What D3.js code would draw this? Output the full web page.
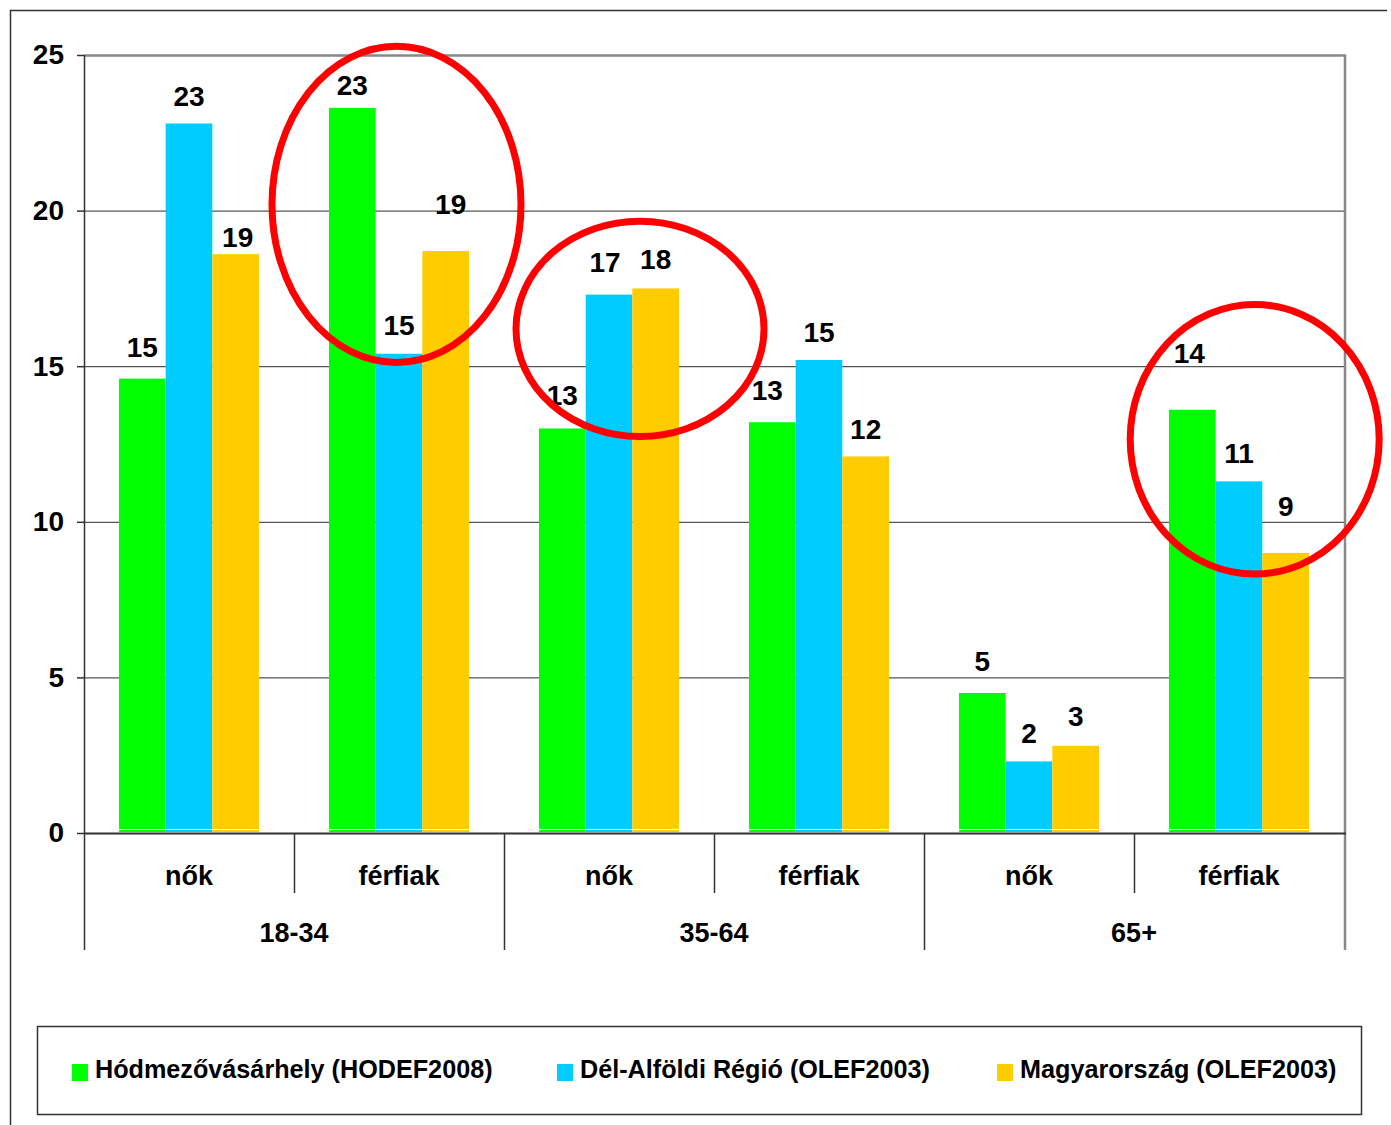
<!DOCTYPE html>
<html>
<head>
<meta charset="utf-8">
<script src="https://cdn.jsdelivr.net/npm/d3@7"></script>
<style>
  body { margin: 0; background: #fff; }
  svg { display: block; font-family: "Liberation Sans", Arial, sans-serif; font-weight: bold; }
</style>
</head>
<body>
<div id="chart"></div>
<script>
// categories
var ageGroups = ["18-34", "35-64", "65+"]
var sexes = ["nők", "férfiak"]
var seriesNames = ["Hódmezővásárhely (HODEF2008)", "Dél-Alföldi Régió (OLEF2003)", "Magyarország (OLEF2003)"]

// values per subcategory (nők 18-34, férfiak 18-34, nők 35-64, ...)
var hodef = [14.6, 23.3, 13.0, 13.2, 4.5, 13.6]
var delAlfold = [22.8, 15.4, 17.3, 15.2, 2.3, 11.3]
var magyar = [18.6, 18.7, 17.5, 12.1, 2.8, 9.0]

var yTicks = [0, 5, 10, 15, 20, 25]

// label nudges [dx, dy], hand-placed labels in the original
var labelNudge = [
  [[0, -2], [0, 7], [0, -3], [-5, -2], [0, -2], [-3, -27]],
  [[0, 3], [0, 1], [-4, -3], [0, 2], [0, 2], [0, 2]],
  [[2, 13], [5, -17], [0, 1], [0, 3], [0, 0], [0, -17]]
]

// red highlight ellipses: subcategory index, dx from band centre, centre value, rx px, ry value
var highlights = [
  {cat: 1, dx: -2.5, v: 20.2, rx: 124.5, ry: 5.08},
  {cat: 2, dx: 31, v: 16.2, rx: 124, ry: 3.46},
  {cat: 5, dx: 15.7, v: 12.65, rx: 124.5, ry: 4.33}
]

var colors = ["#00ff00", "#00ccff", "#ffcc00"]

var W = 1391, H = 1125
var plotL = 84, plotR = 1344, plotT = 55, plotB = 833

var svg = d3.select("#chart").append("svg")
  .attr("width", W)
  .attr("height", H)

// outer frame (top + left edge visible)
svg.append("path")
  .attr("d", "M10.5,1125V10.5H1387")
  .attr("fill", "none")
  .attr("stroke", "#333")
  .attr("stroke-width", 1.5)

var subcats = []
ageGroups.forEach(function(g) {
  sexes.forEach(function(s) { subcats.push(g + "|" + s) })
})

var x0 = d3.scaleBand().domain(subcats).range([plotL, plotR]).padding(0)
var x1 = d3.scaleBand().domain(d3.range(3)).range([0, x0.bandwidth()]).paddingInner(0).paddingOuter(0.75)
var y = d3.scaleLinear().domain([0, 25]).range([plotB, plotT])

var series = [hodef, delAlfold, magyar]

// gridlines
svg.append("g").selectAll("line")
  .data(yTicks.filter(function(t) { return t > 0 && t < 25 }))
  .join("line")
  .attr("x1", plotL).attr("x2", plotR)
  .attr("y1", function(d) { return y(d) + 0.5 })
  .attr("y2", function(d) { return y(d) + 0.5 })
  .attr("stroke", "#555")
  .attr("stroke-width", 1.2)

// top and right border of plot area
svg.append("path")
  .attr("d", "M" + plotL + "," + (plotT + 0.5) + "H" + (plotR + 1) + "V950")
  .attr("fill", "none")
  .attr("stroke", "#888")
  .attr("stroke-width", 2.5)

// bars
var bars = svg.append("g")
series.forEach(function(vals, si) {
  bars.selectAll(".s" + si)
    .data(vals)
    .join("rect")
    .attr("class", "s" + si)
    .attr("x", function(d, i) { return x0(subcats[i]) + x1(si) })
    .attr("y", function(d) { return y(d) })
    .attr("width", x1.bandwidth())
    .attr("height", function(d) { return y(0) - y(d) - 1 })
    .attr("fill", colors[si])
})

// thin white line near the bar bottoms
svg.append("g").selectAll("line")
  .data(subcats)
  .join("line")
  .attr("x1", function(d) { return x0(d) + x1(0) })
  .attr("x2", function(d) { return x0(d) + x1(2) + x1.bandwidth() })
  .attr("y1", y(0) - 3.5).attr("y2", y(0) - 3.5)
  .attr("stroke", "#fff")
  .attr("stroke-width", 1)

// value labels
var labels = svg.append("g")
  .attr("font-size", 28)
  .attr("text-anchor", "middle")
  .attr("fill", "#000")
series.forEach(function(vals, si) {
  labels.selectAll(".l" + si)
    .data(vals)
    .join("text")
    .attr("class", "l" + si)
    .attr("x", function(d, i) { return x0(subcats[i]) + x1(si) + x1.bandwidth() / 2 + labelNudge[si][i][0] })
    .attr("y", function(d, i) { return y(d) - 20 + labelNudge[si][i][1] })
    .text(function(d) { return Math.round(d) })
})

// y axis
var yAxis = svg.append("g")
  .attr("transform", "translate(" + plotL + ",0)")
  .call(d3.axisLeft(y).tickValues(yTicks).tickSize(7).tickPadding(13))
yAxis.select(".domain").remove()
yAxis.selectAll("line").attr("stroke", "#333").attr("stroke-width", 1.5)
yAxis.selectAll("text")
  .attr("font-size", 28)
  .attr("font-family", "Liberation Sans, Arial, sans-serif")
  .attr("font-weight", "bold")
  .attr("fill", "#000")

svg.append("line")
  .attr("x1", plotL + 0.5).attr("x2", plotL + 0.5)
  .attr("y1", plotT).attr("y2", 950)
  .attr("stroke", "#333").attr("stroke-width", 1.5)

// zero line
svg.append("line")
  .attr("x1", plotL).attr("x2", plotR + 2)
  .attr("y1", y(0) + 0.5).attr("y2", y(0) + 0.5)
  .attr("stroke", "#333").attr("stroke-width", 2)

// category axis: dividers
var cat = svg.append("g")
subcats.forEach(function(d, i) {
  if (i === 0) return
  cat.append("line")
    .attr("x1", x0(d) + 0.5).attr("x2", x0(d) + 0.5)
    .attr("y1", plotB).attr("y2", i % 2 === 1 ? 893 : 950)
    .attr("stroke", "#333").attr("stroke-width", 1.5)
})

cat.selectAll(".sub")
  .data(subcats)
  .join("text")
  .attr("class", "sub")
  .attr("x", function(d) { return x0(d) + x0.bandwidth() / 2 })
  .attr("y", 885)
  .attr("text-anchor", "middle")
  .attr("font-size", 27)
  .text(function(d) { return d.split("|")[1] })

cat.selectAll(".grp")
  .data(ageGroups)
  .join("text")
  .attr("class", "grp")
  .attr("x", function(d) { return x0(d + "|" + sexes[1]) })
  .attr("y", 942)
  .attr("text-anchor", "middle")
  .attr("font-size", 27)
  .text(function(d) { return d })

// highlight ellipses
svg.append("g").selectAll("ellipse")
  .data(highlights)
  .join("ellipse")
  .attr("cx", function(d) { return x0(subcats[d.cat]) + x0.bandwidth() / 2 + d.dx })
  .attr("cy", function(d) { return y(d.v) })
  .attr("rx", function(d) { return d.rx })
  .attr("ry", function(d) { return y(0) - y(d.ry) })
  .attr("fill", "none")
  .attr("stroke", "#ff0000")
  .attr("stroke-width", 7)

// legend
var legend = svg.append("g")
legend.append("rect")
  .attr("x", 37.5).attr("y", 1026.5)
  .attr("width", 1324).attr("height", 88)
  .attr("fill", "#fff")
  .attr("stroke", "#333")
  .attr("stroke-width", 1.5)

var legendX = [72, 557, 997]
seriesNames.forEach(function(name, i) {
  legend.append("rect")
    .attr("x", legendX[i]).attr("y", 1064)
    .attr("width", 16).attr("height", 17)
    .attr("fill", colors[i])
  legend.append("text")
    .attr("x", legendX[i] + 23).attr("y", 1078)
    .attr("font-size", 25.2)
    .text(name)
})
</script>
</body>
</html>
